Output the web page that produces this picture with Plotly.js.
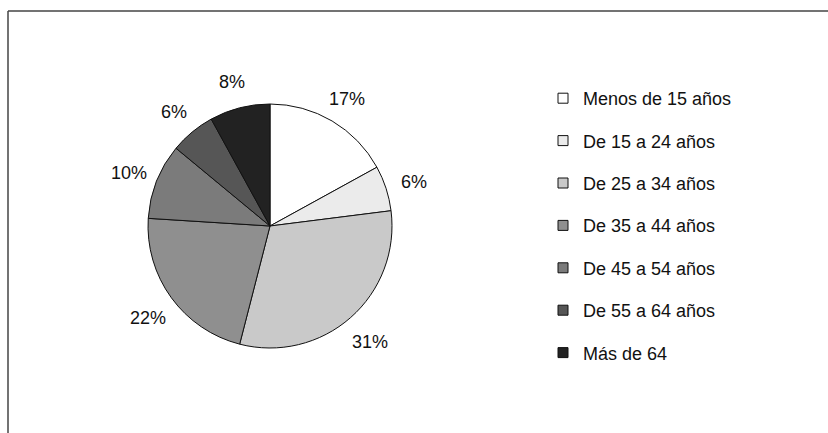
<!DOCTYPE html>
<html>
<head>
<meta charset="utf-8">
<script src="https://cdn.plot.ly/plotly-3.0.1.min.js"></script>
<style>html,body{margin:0;padding:0;background:#fff;}#chart{width:828px;height:433px;}</style>
</head>
<body>
<div id="chart"></div>
<script>
const categories = ["Menos de 15 años","De 15 a 24 años","De 25 a 34 años","De 35 a 44 años","De 45 a 54 años","De 55 a 64 años","Más de 64"];
const values = [17, 6, 31, 22, 10, 6, 8];
const colors = ["#ffffff","#ebebeb","#c9c9c9","#8f8f8f","#7b7b7b","#565656","#222222"];

const W = 828, H = 433;
const dom = {x:[148/W, 392/W], y:[1-349/H, 1-103/H]};
const cx = (dom.x[0]+dom.x[1])/2*W, cy = (1-(dom.y[0]+dom.y[1])/2)*H;
const R = (dom.x[1]-dom.x[0])*W/2;
const total = values.reduce((a,b)=>a+b,0);

const traces = [{
  type:'pie', values: values, labels: categories, sort:false, direction:'clockwise', rotation:0,
  marker:{colors: colors, line:{color:'#111', width:1}},
  textinfo:'none', showlegend:false, domain: dom, hoverinfo:'label+percent'
}];
categories.forEach((c,i)=>{
  traces.push({type:'scatter', x:[null], y:[null], mode:'markers', name:c, legendgroup:'g'+i,
    marker:{symbol:'square', size:10, color:colors[i], line:{color:'#111', width:1}},
    showlegend:true, hoverinfo:'skip'});
});

const annotations = [];
let cum = 0;
values.forEach((v,i)=>{
  const mid = (cum + v/2)/total*2*Math.PI; cum += v;
  const rr = R*1.24;
  const px = cx + rr*Math.sin(mid), py = cy - rr*Math.cos(mid) + 3;
  annotations.push({xref:'paper', yref:'paper', x:px/W, y:1-py/H, showarrow:false,
    text: Math.round(v/total*100)+'%', xanchor:'center', yanchor:'middle',
    font:{family:'Liberation Sans, Arial, sans-serif', size:18, color:'#111'}});
});

const layout = {
  width:W, height:H, margin:{l:0,r:0,t:0,b:0},
  paper_bgcolor:'#fff', plot_bgcolor:'#fff',
  xaxis:{visible:false}, yaxis:{visible:false},
  font:{family:'Liberation Sans, Arial, sans-serif', color:'#111'},
  showlegend:true,
  legend:{x:543/W, y:1-80/H, xanchor:'left', yanchor:'top', bgcolor:'rgba(0,0,0,0)',
    font:{size:18, color:'#111', family:'Liberation Sans, Arial, sans-serif'},
    tracegroupgap:16, itemwidth:30},
  annotations: annotations,
  shapes:[
    {type:'line', xref:'paper', yref:'paper', x0:8/W, x1:1.01, y0:1-11/H, y1:1-11/H, line:{color:'#444', width:1.5}},
    {type:'line', xref:'paper', yref:'paper', x0:8/W, x1:8/W, y0:1-11/H, y1:-0.01, line:{color:'#444', width:1.5}}
  ]
};
Plotly.newPlot('chart', traces, layout, {staticPlot:true, displayModeBar:false});
</script>
</body>
</html>
